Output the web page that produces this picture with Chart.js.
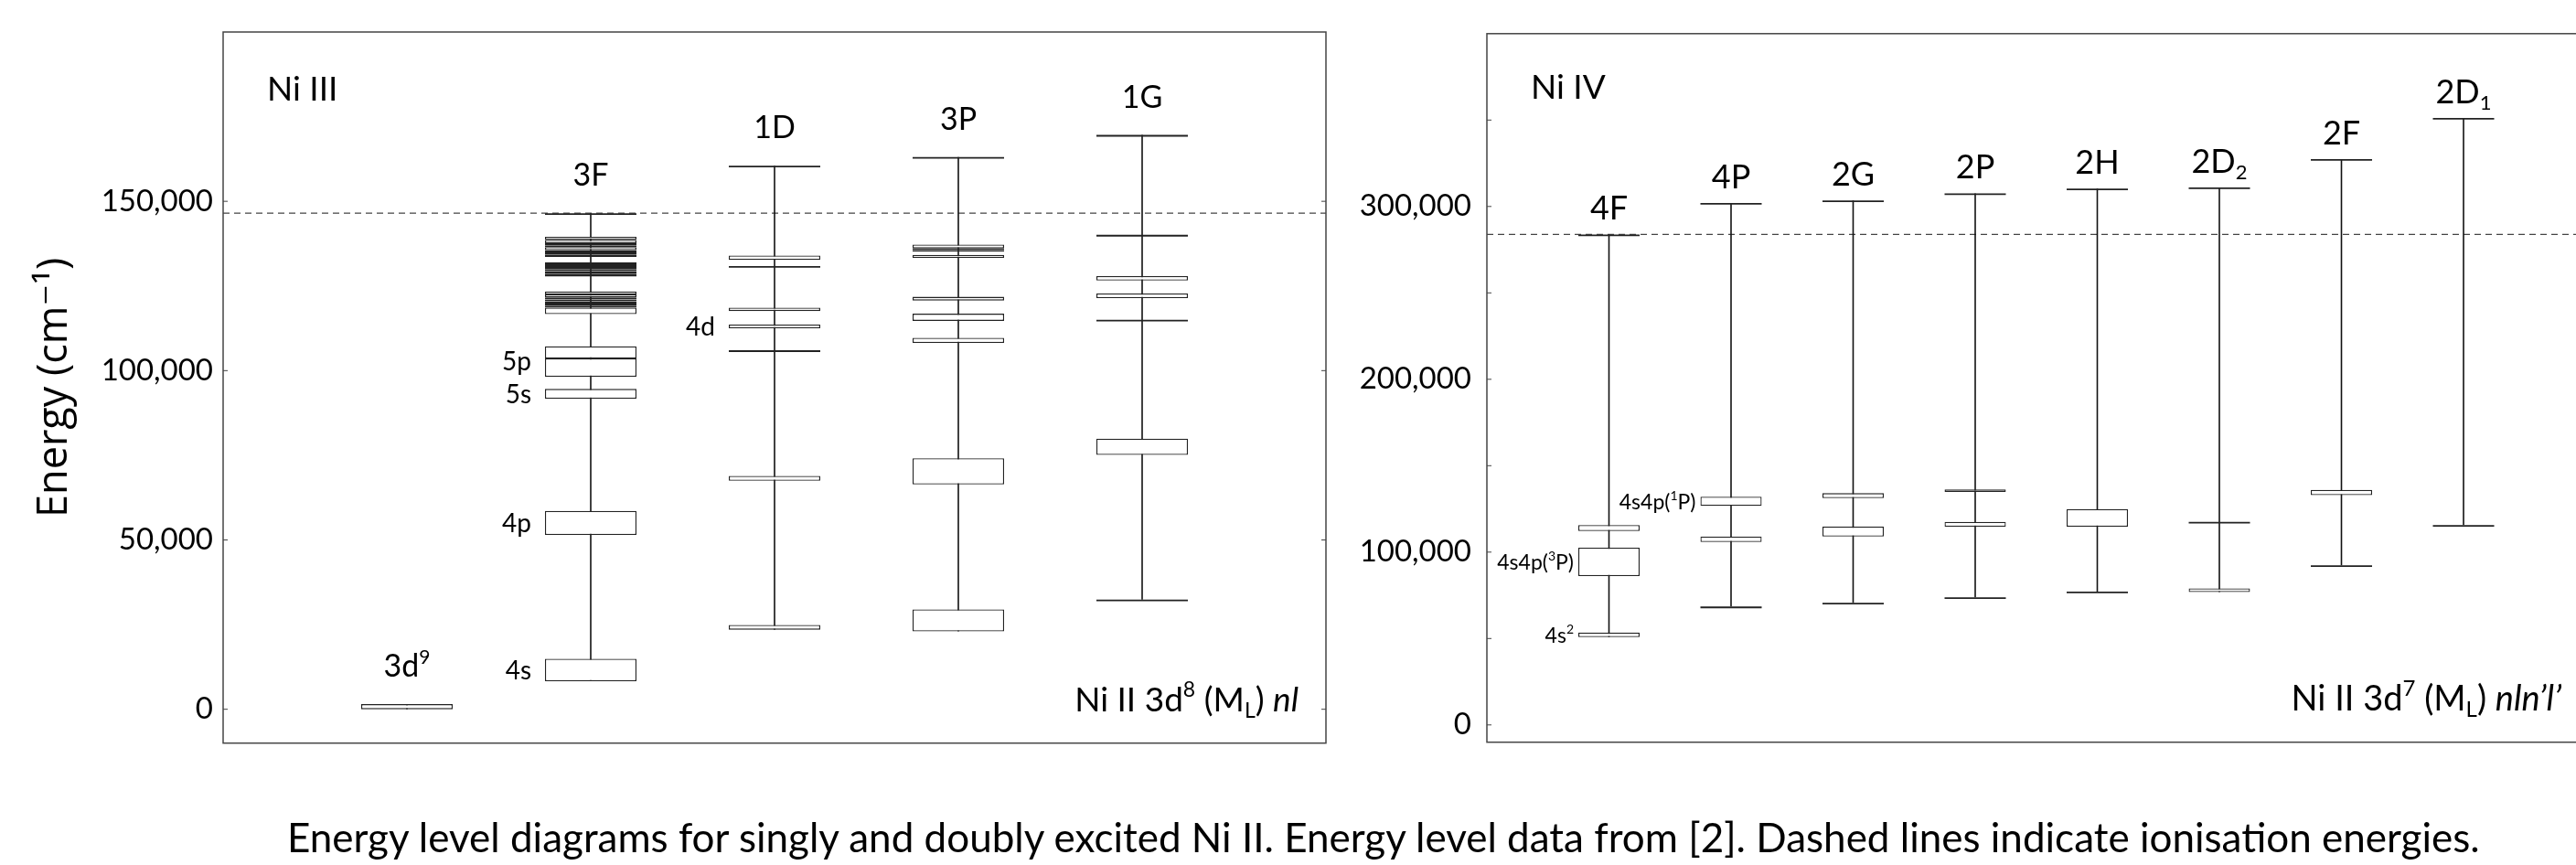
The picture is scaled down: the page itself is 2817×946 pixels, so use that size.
<!DOCTYPE html>
<html>
<head>
<meta charset="utf-8">
<script src="https://cdn.jsdelivr.net/npm/chart.js@4.4.1/dist/chart.umd.min.js"></script>
<style>
  html, body { margin: 0; padding: 0; background: #fff; }
  body { width: 2817px; height: 946px; overflow: hidden; position: relative; }
  #leftChart { position: absolute; left: 0; top: 0; width: 1500px; height: 946px; }
  #rightChart { position: absolute; left: 1460px; top: 0; width: 1370px; height: 946px; }
  #caption { position: absolute; left: 314px; top: 893px; font: 44px/44px Lato, sans-serif; color: #000; white-space: nowrap; }
</style>
</head>
<body>
<canvas id="leftChart" width="1500" height="946"></canvas>
<canvas id="rightChart" width="1370" height="946"></canvas>
<div id="caption">Energy level diagrams for singly and doubly excited Ni II. Energy level data from [2]. Dashed lines indicate ionisation energies.</div>
<script>
// Ni II 3d8 (ML) nl  -- energies in cm-1, boxes are [lowest, highest] of a configuration
const niIIIColumns = ['3d^9', '3F', '1D', '3P', '1G'];
const niIIIBoxes = [
  [[0, 1500]],
  [[8300, 14900], [51500, 58600], [91700, 94600], [98200, 103600], [103600, 107200],
   [116700, 118600], [118600, 119200], [119200, 119800], [119800, 120500], [120500, 121000], [121000, 121600], [121600, 122500], [122500, 123400],
   [127800, 128500], [128500, 129000], [129000, 129400], [129400, 130000], [130000, 130300], [130300, 130900], [130900, 131400], [131400, 132000],
   [133600, 134200], [134200, 134900], [134900, 135600], [135600, 136500], [136500, 137000], [137000, 137600], [137600, 138600], [138600, 139500]],
  [[23500, 24900], [67500, 68900], [112500, 113600], [117600, 118600], [132700, 134000]],
  [[23000, 29500], [66400, 74100], [108200, 109700], [114700, 116800], [120700, 121800], [133300, 134200], [135100, 135600], [135600, 136100], [136100, 137200]],
  [[75100, 79900], [121400, 122800], [126600, 127900]]
];
// single levels (top one = series limit)
const niIIILines = [
  [],
  [146500],
  [106000, 130900, 160500],
  [163100],
  [32400, 115000, 140100, 169600]
];
const niIIIIonisation = 146500;
const niIIITicks = [0, 50000, 100000, 150000];
const niIIITickLabels = ['0', '50,000', '100,000', '150,000'];
const niIIINoteText = ['4s', '4p', '5s', '5p', '4d'];
const niIIINoteColumn = [1, 1, 1, 1, 2];
const niIIINoteEnergy = [11600, 55000, 93100, 102700, 113000];

// Ni II 3d7 (ML) nln'l'
const niIVColumns = ['4F', '4P', '2G', '2P', '2H', '2D_2', '2F', '2D_1'];
const niIVBoxes = [
  [[50800, 53400], [86100, 102600], [112200, 115600]],
  [[105800, 109000], [126700, 132000]],
  [[109000, 114800], [131200, 134100]],
  [[114700, 117500], [134800, 136300]],
  [[114700, 124900]],
  [[76900, 79000]],
  [[133000, 136000]],
  []
];
const niIVLines = [
  [283800],
  [68500, 302000],
  [70700, 303500],
  [73800, 307600],
  [77200, 310400],
  [117500, 311000],
  [92400, 327400],
  [115700, 351200]
];
const niIVIonisation = 283800;
const niIVTicks = [0, 50000, 100000, 150000, 200000, 250000, 300000, 350000];
const niIVTickLabels = ['0', '', '100,000', '', '200,000', '', '300,000', ''];
const niIVNoteText = ['4s^2', '4s4p(^3P)', '4s4p(^1P)'];
const niIVNoteColumn = [0, 0, 1];
const niIVNoteEnergy = [52100, 94350, 129350];

Chart.defaults.font.family = 'Lato';

// small markup: ^x superscript, _x subscript, *...* italic
function parseRich(str) {
  const segs = [];
  let italic = false, buf = '';
  const push = (t, m) => { if (t) segs.push({ t, m, it: italic }); };
  for (let i = 0; i < str.length; i++) {
    const c = str[i];
    if (c === '^' || c === '_') {
      push(buf, 'n'); buf = '';
      let t;
      if (str[i + 1] === '{') { const j = str.indexOf('}', i); t = str.slice(i + 2, j); i = j; }
      else { t = str[i + 1]; i++; }
      push(t, c === '^' ? 'sup' : 'sub');
    } else if (c === '*') {
      push(buf, 'n'); buf = ''; italic = !italic;
    } else buf += c;
  }
  push(buf, 'n');
  return segs;
}

function drawRich(ctx, str, x, y, size, align) {
  const segs = parseRich(str);
  const fontFor = s => (s.it ? 'italic ' : '') + (s.m === 'n' ? size : Math.round(size * 0.62)) + 'px Lato';
  let total = 0;
  segs.forEach(s => { ctx.font = fontFor(s); s.w = ctx.measureText(s.t).width; total += s.w; });
  let cx = align === 'right' ? x - total : align === 'center' ? x - total / 2 : x;
  ctx.textAlign = 'left';
  ctx.textBaseline = 'alphabetic';
  ctx.fillStyle = '#000';
  segs.forEach(s => {
    ctx.font = fontFor(s);
    const dy = s.m === 'sup' ? -size * 0.42 : s.m === 'sub' ? size * 0.2 : 0;
    ctx.fillText(s.t, cx, y + dy);
    cx += s.w;
  });
}

// frame, ticks, dashed ionisation line and all the labels
function decorPlugin(cfg) {
  return {
    id: 'decor',
    beforeDatasetsDraw(chart) {
      const { ctx, chartArea: a, scales: { y } } = chart;
      const yi = y.getPixelForValue(cfg.ionisation);
      ctx.save();
      ctx.strokeStyle = '#444';
      ctx.lineWidth = 1.4;
      ctx.setLineDash([7, 5]);
      ctx.beginPath();
      ctx.moveTo(a.left, yi);
      ctx.lineTo(a.right, yi);
      ctx.stroke();
      ctx.restore();
    },
    afterDatasetsDraw(chart) {
      const { ctx, chartArea: a, scales: { x, y } } = chart;
      ctx.save();
      ctx.strokeStyle = '#444';
      ctx.lineWidth = 1.5;
      ctx.strokeRect(a.left, a.top, a.right - a.left, a.bottom - a.top);
      ctx.lineWidth = 1;
      y.ticks.forEach(t => {
        const py = y.getPixelForValue(t.value);
        ctx.beginPath();
        ctx.moveTo(a.left, py); ctx.lineTo(a.left + 5, py);
        ctx.moveTo(a.right - 5, py); ctx.lineTo(a.right, py);
        ctx.stroke();
      });

      cfg.columns.forEach((c, i) => {
        const top = Math.max(...cfg.boxes[i].flat(), ...cfg.lines[i]);
        drawRich(ctx, c, x.getPixelForValue(i + 1), y.getPixelForValue(top) - cfg.labelGap, cfg.labelSize, 'center');
      });

      cfg.noteText.forEach((t, k) => {
        const px = x.getPixelForValue(cfg.noteColumn[k] + 1) - cfg.thickness / 2 - cfg.noteGap;
        const py = y.getPixelForValue(cfg.noteEnergy[k]) + cfg.noteSize * 0.36;
        drawRich(ctx, t, px, py, cfg.noteSize, 'right');
      });

      drawRich(ctx, cfg.name, a.left + 48, a.top + cfg.nameDrop, 37, 'left');
      drawRich(ctx, cfg.config, a.right - cfg.configInset, a.bottom - 35, cfg.configSize, 'right');
      ctx.restore();
    }
  };
}

function buildDatasets(boxes, lines, thickness) {
  const pad = arr => [null, ...arr, null];
  const stem = boxes.map((b, i) => {
    const all = b.flat().concat(lines[i]);
    return [Math.min(...all), Math.max(...all)];
  });
  const sets = [{
    data: pad(stem), grouped: false, barThickness: 1.6, backgroundColor: '#111',
    borderWidth: 0, inflateAmount: 0, order: 3
  }];
  const nBox = Math.max(...boxes.map(b => b.length));
  for (let k = 0; k < nBox; k++) {
    sets.push({
      data: pad(boxes.map(b => b[k] || null)), grouped: false, barThickness: thickness,
      backgroundColor: '#fff', borderColor: '#222', borderWidth: 1.3, borderSkipped: false,
      inflateAmount: 0, order: 2
    });
  }
  const nLine = Math.max(...lines.map(l => l.length));
  for (let k = 0; k < nLine; k++) {
    sets.push({
      data: pad(lines.map(l => (l[k] !== undefined ? [l[k], l[k]] : null))), grouped: false,
      barThickness: thickness, backgroundColor: '#222', borderWidth: 0, minBarLength: 1.8,
      inflateAmount: 0, order: 1
    });
  }
  return sets;
}

function makeChart(id, cfg) {
  const yScale = {
    type: 'linear', min: -10000, max: cfg.max,
    afterBuildTicks: s => { s.ticks = cfg.ticks.map(v => ({ value: v })); },
    afterFit: s => { s.width = cfg.axisWidth; },
    grid: { display: false, drawTicks: false },
    border: { display: false },
    ticks: {
      color: '#000', padding: cfg.tickPad, autoSkip: false,
      font: { family: 'Lato', size: 33 },
      callback: v => cfg.tickLabels[cfg.ticks.indexOf(v)]
    },
    title: cfg.title
  };
  return new Chart(document.getElementById(id), {
    type: 'bar',
    data: {
      labels: ['', ...cfg.columns, ' '],
      datasets: buildDatasets(cfg.boxes, cfg.lines, cfg.thickness)
    },
    options: {
      responsive: false,
      animation: false,
      devicePixelRatio: 1,
      events: [],
      layout: { padding: cfg.padding },
      plugins: { legend: { display: false }, tooltip: { enabled: false } },
      scales: {
        x: { type: 'category', offset: false, display: false },
        y: yScale
      }
    },
    plugins: [decorPlugin(cfg)]
  });
}

makeChart('leftChart', {
  columns: niIIIColumns, boxes: niIIIBoxes, lines: niIIILines, ionisation: niIIIIonisation,
  ticks: niIIITicks, tickLabels: niIIITickLabels,
  noteText: niIIINoteText, noteColumn: niIIINoteColumn, noteEnergy: niIIINoteEnergy,
  max: 200000, thickness: 100, axisWidth: 244, tickPad: 11,
  padding: { left: 0, right: 50, top: 35, bottom: 133.3 },
  labelGap: 30, labelSize: 34, noteGap: 15, noteSize: 28,
  name: 'Ni III', nameDrop: 75, config: 'Ni II 3d^8 (M_L) *nl*', configInset: 30, configSize: 37,
  title: {
    display: true, text: 'Energy (cm\u207B\u00B9)', color: '#000',
    font: { family: "'Open Sans', 'DejaVu Sans'", size: 45 },
    padding: { top: 33, bottom: 0 }
  }
});

makeChart('rightChart', {
  columns: niIVColumns, boxes: niIVBoxes, lines: niIVLines, ionisation: niIVIonisation,
  ticks: niIVTicks, tickLabels: niIVTickLabels,
  noteText: niIVNoteText, noteColumn: niIVNoteColumn, noteEnergy: niIVNoteEnergy,
  max: 400000, thickness: 67, axisWidth: 166, tickPad: 17,
  padding: { left: 0, right: 2.5, top: 36.7, bottom: 134.3 },
  labelGap: 16, labelSize: 36, noteGap: 5, noteSize: 23,
  name: 'Ni IV', nameDrop: 71, config: "Ni II 3d^7 (M_L) *nln\u2019l\u2019*", configInset: 26.5, configSize: 38,
  title: { display: false }
});
</script>
</body>
</html>
